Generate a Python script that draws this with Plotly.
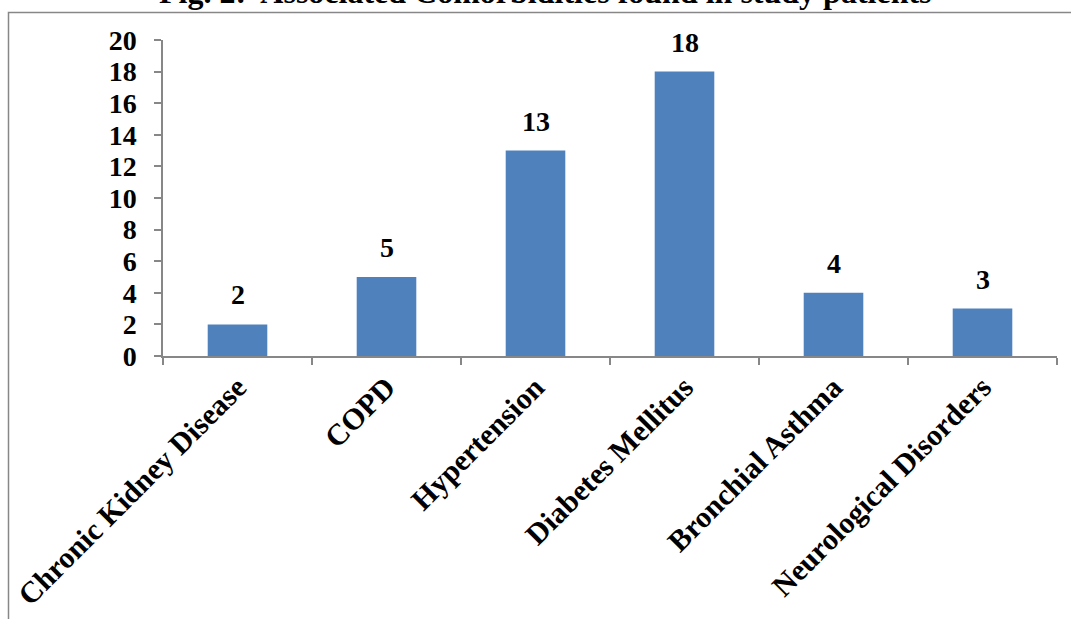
import plotly.graph_objects as go

# Comorbidity counts among study patients
categories = [
    "Chronic Kidney Disease",
    "COPD",
    "Hypertension",
    "Diabetes Mellitus",
    "Bronchial Asthma",
    "Neurological Disorders",
]
counts = [2, 5, 13, 18, 4, 3]
y_ticks = list(range(0, 21, 2))

title_text = "Fig. 2:  Associated Comorbidities found in study patients"

W, H = 1071, 619
L, R, T, B = 163, 14, 40, 263
plot_w = W - L - R
plot_h = H - T - B

def px_to_paper_x(px):
    return (px - L) / plot_w

def px_to_paper_y(py):
    return 1 - (py - T) / plot_h

serif = "Liberation Serif, Times New Roman, serif"
axis_grey = "#878787"

fig = go.Figure(
    go.Bar(
        x=categories,
        y=counts,
        marker=dict(color="#4F81BD", line=dict(width=0)),
        hoverinfo="x+y",
    )
)

# value labels above each bar
for cat, val in zip(categories, counts):
    fig.add_annotation(
        x=cat, y=val, text=str(val), showarrow=False,
        yanchor="bottom", yshift=12,
        font=dict(family=serif, size=28, color="black", weight="bold"),
    )

# figure caption sitting above the chart frame
fig.add_annotation(
    x=px_to_paper_x(545), y=px_to_paper_y(12), xref="paper", yref="paper",
    text=title_text, showarrow=False, xanchor="center", yanchor="bottom",
    font=dict(family=serif, size=32, color="black", weight="bold"),
)

# chart frame
fig.add_shape(
    type="rect", xref="paper", yref="paper",
    x0=px_to_paper_x(8.5), x1=px_to_paper_x(1100),
    y0=px_to_paper_y(700), y1=px_to_paper_y(12.5),
    line=dict(color=axis_grey, width=1.5), fillcolor="rgba(0,0,0,0)",
    layer="below",
)

fig.update_layout(
    width=W, height=H,
    margin=dict(l=L, r=R, t=T, b=B, pad=0),
    paper_bgcolor="white", plot_bgcolor="white",
    bargap=0.6, showlegend=False,
    xaxis=dict(
        type="category", automargin=False,
        showline=True, linecolor=axis_grey, linewidth=1.5,
        ticks="outside", tickson="boundaries", ticklen=7,
        tickcolor=axis_grey, tickwidth=1.5,
        tickangle=-45,
        tickfont=dict(family=serif, size=30, color="black", weight="bold"),
        showgrid=False, zeroline=False,
    ),
    yaxis=dict(
        range=[0, 20], tickvals=y_ticks, automargin=False,
        showline=True, linecolor=axis_grey, linewidth=1.5,
        ticks="outside", ticklen=7, tickcolor=axis_grey, tickwidth=1.5,
        ticklabelstandoff=12,
        tickfont=dict(family=serif, size=28, color="black", weight="bold"),
        showgrid=False, zeroline=False,
    ),
)

fig.write_html("out.html")
